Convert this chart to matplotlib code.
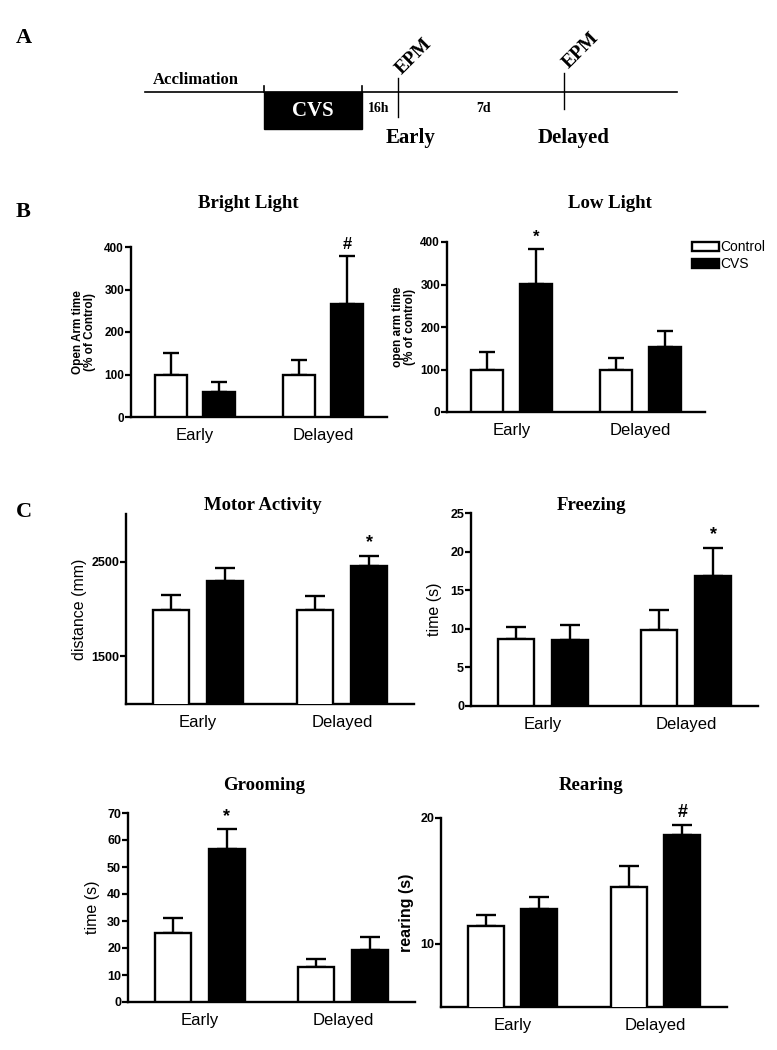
import numpy as np
import matplotlib
matplotlib.use('Agg')
import matplotlib.pyplot as plt
from matplotlib.patches import Patch, Rectangle

plt.rcParams['font.family'] = ['Liberation Sans', 'DejaVu Sans']
SERIF = 'Liberation Serif'

W, H = 777, 1050

groups = ['Early', 'Delayed']

bright_ctrl = [100, 100]
bright_ctrl_err = [50, 33]
bright_cvs = [60, 266]
bright_cvs_err = [23, 112]

low_ctrl = [100, 100]
low_ctrl_err = [42, 28]
low_cvs = [302, 154]
low_cvs_err = [82, 37]

motor_ctrl = [1990, 1990]
motor_ctrl_err = [160, 143]
motor_cvs = [2297, 2451]
motor_cvs_err = [137, 112]

freeze_ctrl = [8.7, 9.8]
freeze_ctrl_err = [1.5, 2.6]
freeze_cvs = [8.5, 16.9]
freeze_cvs_err = [2.0, 3.6]

groom_ctrl = [25.6, 12.8]
groom_ctrl_err = [5.4, 3.2]
groom_cvs = [56.8, 19.1]
groom_cvs_err = [7.3, 4.9]

rear_ctrl = [11.46, 14.56]
rear_ctrl_err = [0.87, 1.67]
rear_cvs = [12.76, 18.62]
rear_cvs_err = [0.95, 0.85]

fig = plt.figure(figsize=(W / 100, H / 100), dpi=100)


def rect(l, t, r, b):
    return [l / W, 1 - b / H, (r - l) / W, (b - t) / H]


def ftext(x, y, s, **kw):
    fig.text(x / W, 1 - y / H, s, **kw)


def barpanel(pos, ctrl, ctrl_err, cvs, cvs_err, ylim, yticks, ylabel,
             mark, mark_idx, capsize=7.5, ylab_bold=False, ylab_size=11.5,
             tick_size=9, mark_size=13, labelpad=3):
    ax = fig.add_axes(pos)
    x = np.arange(len(groups))
    w = 0.25
    off = 0.1875
    kw = dict(width=w, edgecolor='black', linewidth=1.7, zorder=3)
    ax.bar(x - off, ctrl, color='white', **kw)
    ax.bar(x + off, cvs, color='black', **kw)
    ekw = dict(fmt='none', ecolor='black', elinewidth=1.7, capsize=capsize,
               capthick=1.7, zorder=2)
    ax.errorbar(x - off, ctrl, yerr=[np.zeros(2), ctrl_err], **ekw)
    ax.errorbar(x + off, cvs, yerr=[np.zeros(2), cvs_err], **ekw)
    top = cvs[mark_idx] + cvs_err[mark_idx]
    ax.annotate(mark, xy=(x[mark_idx] + off, top), xytext=(0, 3),
                textcoords='offset points', ha='center', va='bottom',
                fontsize=mark_size, fontweight='bold')
    ax.set_xlim(-0.5, 1.5)
    ax.set_ylim(*ylim)
    ax.set_yticks(yticks)
    ax.set_xticks(x)
    ax.set_xticklabels(groups, fontsize=12)
    ax.tick_params(axis='x', length=0, pad=8)
    ax.tick_params(axis='y', length=4.5, width=1.6, pad=0.5, labelsize=tick_size)
    for t in ax.get_yticklabels():
        t.set_fontweight('bold')
    for s in ['top', 'right']:
        ax.spines[s].set_visible(False)
    for s in ['left', 'bottom']:
        ax.spines[s].set_linewidth(1.7)
    ax.set_ylabel(ylabel, fontsize=ylab_size,
                  fontweight='bold' if ylab_bold else 'normal',
                  labelpad=labelpad, linespacing=1.0)
    return ax


# Panel B
barpanel(rect(131, 247, 387, 417), bright_ctrl, bright_ctrl_err, bright_cvs,
         bright_cvs_err, (0, 400), [0, 100, 200, 300, 400],
         'Open Arm time\n(% of Control)', '#', 1, capsize=6,
         ylab_bold=True, ylab_size=8.5, tick_size=8.5, mark_size=12,
         labelpad=6)
barpanel(rect(447, 242, 705, 412), low_ctrl, low_ctrl_err, low_cvs,
         low_cvs_err, (0, 400), [0, 100, 200, 300, 400],
         'open arm time\n(% of control)', '*', 0, capsize=6,
         ylab_bold=True, ylab_size=8.5, tick_size=8.5, mark_size=12,
         labelpad=3)

# Panel C
barpanel(rect(126, 514, 414, 704), motor_ctrl, motor_ctrl_err, motor_cvs,
         motor_cvs_err, (1000, 3000), [1500, 2500], 'distance (mm)', '*', 1)
barpanel(rect(471, 513, 758, 706), freeze_ctrl, freeze_ctrl_err, freeze_cvs,
         freeze_cvs_err, (0, 25), [0, 5, 10, 15, 20, 25], 'time (s)', '*', 1,
         labelpad=6)
barpanel(rect(128, 813, 415, 1002), groom_ctrl, groom_ctrl_err, groom_cvs,
         groom_cvs_err, (0, 70), list(range(0, 71, 10)), 'time (s)', '*', 0,
         labelpad=5)
barpanel(rect(441, 818, 727, 1007), rear_ctrl, rear_ctrl_err, rear_cvs,
         rear_cvs_err, (5, 20), [10, 20], 'rearing (s)', '#', 1,
         ylab_bold=True, labelpad=4)

# titles
tkw = dict(family=SERIF, fontweight='bold', fontsize=13.5, ha='center',
           va='center')
ftext(248, 203, 'Bright Light', **tkw)
ftext(610, 204, 'Low Light', **tkw)
ftext(263, 506, 'Motor Activity', **tkw)
ftext(591, 506, 'Freezing', **tkw)
ftext(264, 786, 'Grooming', **tkw)
ftext(591, 786, 'Rearing', **tkw)

lkw = dict(family=SERIF, fontweight='bold', fontsize=16, ha='left', va='center')
ftext(16, 38, 'A', **lkw)
ftext(16, 212, 'B', **lkw)
ftext(16, 512, 'C', **lkw)

# legend
handles = [Patch(facecolor='white', edgecolor='black', linewidth=1.7),
           Patch(facecolor='black', edgecolor='black', linewidth=1.7)]
fig.legend(handles, ['Control', 'CVS'], loc='upper left',
           bbox_to_anchor=(692 / W, 1 - 240 / H), frameon=False, fontsize=10,
           handlelength=1.95, handleheight=0.6, handletextpad=0.1,
           labelspacing=0.25, borderaxespad=0, borderpad=0)

# Panel A timeline schematic
ax0 = fig.add_axes([0, 0, 1, 1], zorder=-1)
ax0.set_xlim(0, W)
ax0.set_ylim(H, 0)
ax0.axis('off')
line_y = 92
ax0.plot([145, 677], [line_y, line_y], color='black', lw=1.2)
ax0.add_patch(Rectangle((264, line_y), 98, 37, facecolor='black',
                        edgecolor='black'))
ax0.plot([264, 264], [86, line_y], color='black', lw=1.2)
ax0.plot([362, 362], [86, line_y], color='black', lw=1.2)
ax0.plot([398, 398], [78, 117], color='black', lw=1.0)
ax0.plot([564, 564], [73, 109], color='black', lw=1.0)
skw = dict(family=SERIF, fontweight='bold', ha='center', va='center')
ax0.text(196, 80, 'Acclimation', fontsize=12, **skw)
ax0.text(313, 111, 'CVS', fontsize=15, color='white', **skw)
ax0.text(379, 109, '16h', fontsize=10, **skw)
ax0.text(484, 109, '7d', fontsize=10, **skw)
ax0.text(414, 56, 'EPM', fontsize=14, rotation=45, **skw)
ax0.text(581, 50, 'EPM', fontsize=14, rotation=45, **skw)
ax0.text(411, 138, 'Early', fontsize=15, **skw)
ax0.text(574, 138, 'Delayed', fontsize=15, **skw)

fig.savefig('out.png', dpi=100)
